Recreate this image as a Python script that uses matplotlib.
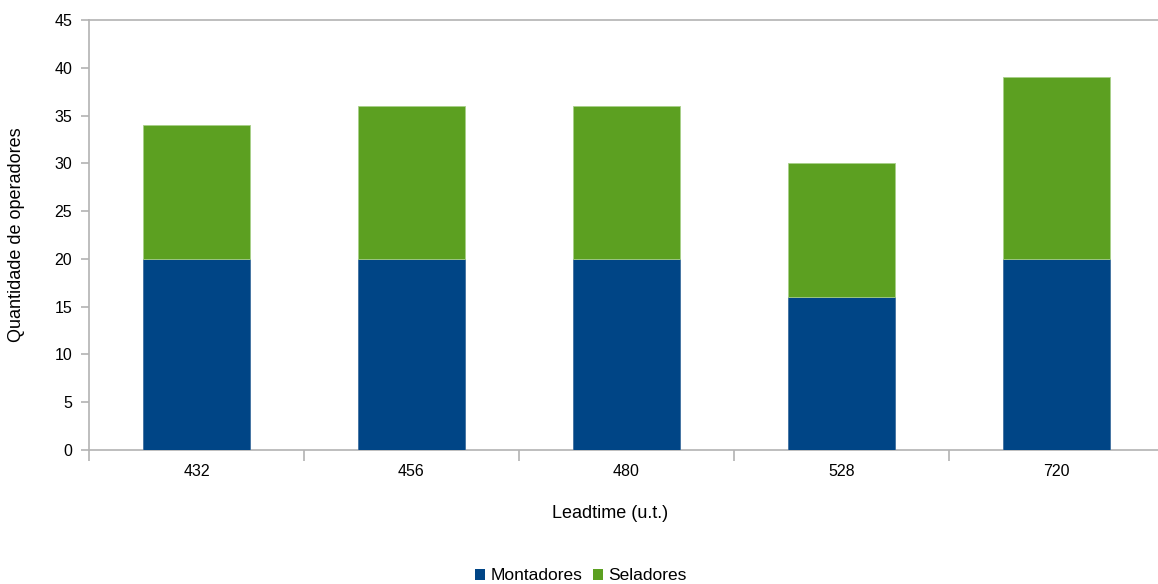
import matplotlib
matplotlib.use("Agg")
import matplotlib.pyplot as plt
import numpy as np
from matplotlib.patches import Patch

plt.rcParams['font.family'] = ['Liberation Sans', 'DejaVu Sans']

leadtimes = ["432", "456", "480", "528", "720"]
montadores = [20, 20, 20, 16, 20]
seladores = [14, 16, 16, 14, 19]

blue = "#004586"
green = "#5ca021"
axis_gray = "#b3b3b3"

W, H = 1158, 584
fig = plt.figure(figsize=(W / 100, H / 100), dpi=100)
ax = fig.add_axes([89 / W, 1 - 450 / H, (1164 - 89) / W, (450 - 20) / H])

x = np.arange(len(leadtimes))
ax.bar(x, montadores, width=0.5, color=blue, edgecolor="#3f6f9f", linewidth=0.6, zorder=3)
ax.bar(x, seladores, width=0.5, bottom=montadores, color=green, edgecolor="#a8cf88",
       linewidth=0.6, zorder=3)

ax.set_xlim(-0.5, len(leadtimes) - 0.5)
ax.set_ylim(0, 45)
ax.set_yticks(range(0, 46, 5))

# category labels centred on bars, tick marks on category boundaries
ax.set_xticks(x)
ax.set_xticklabels(leadtimes, fontsize=11.5)
ax.set_xticks(np.arange(-0.5, len(leadtimes), 1.0), minor=True)
ax.tick_params(axis="x", which="major", length=0, pad=10)
ax.tick_params(axis="x", which="minor", length=8, color=axis_gray, width=1.2)
ax.tick_params(axis="y", length=6, color=axis_gray, width=1.2, labelsize=11.5, pad=6)

ax.spines["right"].set_visible(False)
for side in ("left", "bottom", "top"):
    ax.spines[side].set_color(axis_gray)
    ax.spines[side].set_linewidth(1.2)

fig.text(17 / W, 1 - 235 / H, "Quantidade de operadores", rotation=90,
         ha="center", va="center", fontsize=13)
fig.text(610 / W, 1 - 514 / H, "Leadtime (u.t.)", ha="center", va="center", fontsize=13)

handles = [Patch(facecolor=blue, label="Montadores"), Patch(facecolor=green, label="Seladores")]
fig.legend(handles=handles, loc="center", bbox_to_anchor=(581 / W, 1 - 576 / H), ncol=2,
           frameon=False, fontsize=12.5, handlelength=0.6, handleheight=0.6,
           handletextpad=0.3, columnspacing=0.6, borderpad=0)

fig.savefig("out.png", dpi=100)
